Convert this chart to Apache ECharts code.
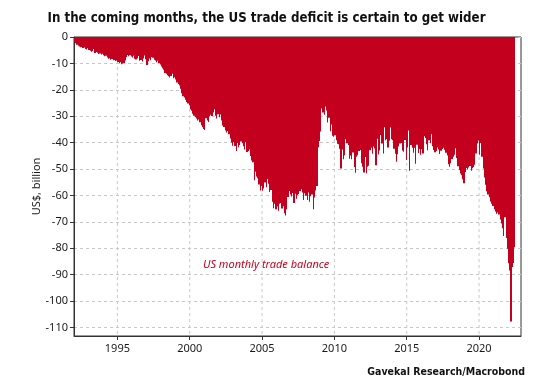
<!DOCTYPE html>
<html><head><meta charset="utf-8">
<script src="https://cdn.jsdelivr.net/npm/echarts@6/dist/echarts.min.js"></script>
<style>html,body{margin:0;padding:0;background:#fff}#c{width:533px;height:386px}</style>
</head><body><div id="c"></div>
<script>
// US monthly trade balance, US$ billion (Jan..Dec of each year)
const startYear = 1992;
const b1992 = [-1.8,-2.4,-2.9,-3.3,-3.6,-3.9,-3.8,-4.2,-4.0,-4.5,-4.7,-4.3];
const b1993 = [-4.9,-5.2,-5.6,-5.3,-4.5,-6.1,-5.7,-6.0,-6.4,-6.2,-6.6,-6.3];
const b1994 = [-6.9,-7.3,-7.1,-7.8,-8.2,-8.0,-8.6,-8.3,-8.8,-8.7,-9.1,-8.9];
const b1995 = [-9.5,-9.9,-9.6,-10.3,-10.0,-9.8,-8.9,-7.6,-6.8,-7.3,-6.9,-7.4];
const b1996 = [-7.8,-7.1,-8.2,-8.5,-8.0,-7.2,-9.0,-8.7,-9.3,-8.1,-7.0,-8.4];
const b1997 = [-10.6,-9.2,-8.1,-8.8,-7.6,-7.9,-8.6,-8.9,-9.6,-9.0,-9.8,-10.4];
const b1998 = [-11.2,-11.8,-12.4,-13.6,-13.9,-14.5,-14.9,-15.3,-14.8,-13.9,-15.6,-15.2];
const b1999 = [-16.1,-17.2,-17.8,-18.4,-19.6,-21.3,-22.4,-22.9,-23.8,-24.6,-25.2,-25.8];
const b2000 = [-27.4,-27.9,-29.1,-29.8,-30.4,-30.9,-31.6,-31.2,-32.3,-33.4,-34.1,-34.8];
const b2001 = [-35.2,-30.8,-31.6,-32.2,-30.1,-29.4,-29.9,-28.6,-27.4,-29.8,-30.9,-29.2];
const b2002 = [-30.4,-29.3,-31.6,-33.5,-34.1,-35.4,-36.2,-35.6,-36.8,-38.4,-39.9,-41.2];
const b2003 = [-39.8,-41.3,-43.2,-40.1,-41.7,-40.9,-39.6,-40.2,-41.4,-42.6,-39.8,-43.5];
const b2004 = [-43.2,-42.6,-45.1,-46.8,-47.4,-54.2,-51.0,-52.8,-53.5,-55.8,-58.1,-56.4];
const b2005 = [-58.2,-57.4,-55.1,-56.9,-53.8,-55.6,-58.7,-57.9,-62.4,-64.8,-63.1,-65.2];
const b2006 = [-64.2,-65.8,-63.1,-62.8,-64.9,-64.1,-66.7,-67.6,-65.2,-60.6,-58.3,-59.6];
const b2007 = [-60.4,-59.1,-62.8,-59.3,-61.2,-59.8,-59.4,-58.3,-57.6,-58.9,-61.7,-59.2];
const b2008 = [-60.1,-61.7,-58.9,-62.4,-60.3,-59.6,-65.2,-60.8,-58.1,-56.4,-41.7,-39.4];
const b2009 = [-35.8,-27.1,-28.6,-29.4,-26.3,-27.8,-32.4,-30.6,-35.7,-33.1,-37.4,-37.8];
const b2010 = [-37.2,-39.1,-40.4,-40.6,-42.3,-49.8,-42.6,-46.3,-44.8,-38.7,-40.2,-40.9];
const b2011 = [-46.1,-44.9,-46.3,-43.7,-49.2,-51.4,-45.3,-44.8,-43.2,-42.8,-47.8,-49.1];
const b2012 = [-51.3,-45.4,-51.6,-49.1,-48.7,-42.9,-41.9,-44.2,-41.5,-42.2,-48.6,-38.5];
const b2013 = [-44.5,-43.0,-37.1,-40.3,-44.1,-34.2,-39.1,-38.6,-41.8,-39.3,-34.3,-38.7];
const b2014 = [-39.1,-42.3,-44.2,-47.2,-44.4,-41.5,-40.3,-40.1,-43.0,-43.4,-39.0,-46.6];
const b2015 = [-41.8,-35.4,-50.6,-40.9,-41.9,-43.8,-41.9,-48.0,-40.8,-43.9,-42.4,-44.6];
const b2016 = [-42.5,-44.1,-37.6,-38.2,-40.6,-42.9,-39.1,-40.2,-36.8,-41.4,-42.8,-43.6];
const b2017 = [-43.2,-41.8,-42.6,-44.3,-43.1,-42.4,-41.9,-42.7,-43.8,-44.9,-48.2,-49.1];
const b2018 = [-47.8,-46.2,-45.3,-44.6,-42.1,-45.8,-48.9,-50.4,-51.7,-52.3,-53.9,-55.4];
const b2019 = [-51.1,-49.6,-50.2,-49.4,-48.8,-50.6,-49.7,-49.2,-48.4,-44.1,-40.3,-39.2];
const b2020 = [-44.6,-40.1,-45.3,-49.8,-53.2,-55.9,-58.4,-59.6,-60.7,-62.3,-63.1,-64.0];
const b2021 = [-65.2,-66.1,-66.9,-66.4,-67.2,-69.1,-70.6,-72.4,-75.3,-68.2,-76.1,-80.2];
const b2022 = [-85.7,-88.4,-107.7,-87.1,-85.6,-79.6];

const xTickYears = [1995, 2000, 2005, 2010, 2015, 2020];
const yTickValues = [0, -10, -20, -30, -40, -50, -60, -70, -80, -90, -100, -110];

const monthly = [].concat(b1992,b1993,b1994,b1995,b1996,b1997,b1998,b1999,b2000,b2001,
  b2002,b2003,b2004,b2005,b2006,b2007,b2008,b2009,b2010,b2011,b2012,b2013,b2014,b2015,
  b2016,b2017,b2018,b2019,b2020,b2021,b2022);
const seriesData = monthly.map((v, i) => [startYear + (i + 0.5) / 12, v]);

const X_MIN = 1992, X_MAX = 2022.9, Y_MIN = -113.2, Y_MAX = 0;
const gridColor = '#c8c8c8';
const red = '#c4001f';

const chart = echarts.init(document.getElementById('c'), null, {renderer: 'canvas'});
const lbl = {fontFamily: 'Noto Sans', fontSize: 11, color: '#1a1a1a'};

// vertical dashed grid lines at the labelled years, drawn beneath the bars
const vGrid = xTickYears.map(yr => ({
  type: 'line', data: [[yr, Y_MAX], [yr, Y_MIN]], symbol: 'none', silent: true, z: 1,
  lineStyle: {color: gridColor, width: 1, type: [3, 3]}
}));

// one bar per month, spanning the whole month on the value axis
function renderMonth(params, api) {
  const t = api.value(0), v = api.value(1);
  const p0 = api.coord([t - 1 / 24, 0]);
  const p1 = api.coord([t + 1 / 24, v]);
  const x0 = Math.round(p0[0]), x1 = Math.round(p1[0]);
  return {
    type: 'rect',
    shape: {x: x0, y: p0[1], width: Math.max(1, x1 - x0), height: p1[1] - p0[1]},
    style: {fill: red}
  };
}

chart.setOption({
  animation: false,
  backgroundColor: '#fff',
  title: {
    text: 'In the coming months, the US trade deficit is certain to get wider',
    left: 'center', top: 7,
    textStyle: {fontFamily: '"Liberation Sans Narrow","DejaVu Sans Condensed",sans-serif', fontWeight: 'bold', fontSize: 13.2, color: '#111'}
  },
  grid: {left: 74, right: 12, top: 37, bottom: 50, show: true, borderColor: '#333', borderWidth: 1},
  xAxis: {
    type: 'value', min: X_MIN, max: X_MAX,
    axisLine: {show: true, onZero: false, lineStyle: {color: '#333'}},
    axisTick: {show: true, customValues: xTickYears, length: 4, lineStyle: {color: '#333'}},
    axisLabel: Object.assign({customValues: xTickYears, margin: 7, formatter: v => String(v)}, lbl),
    splitLine: {show: false}
  },
  yAxis: {
    type: 'value', min: Y_MIN, max: Y_MAX,
    name: 'US$, billion', nameLocation: 'middle', nameGap: 32, nameMoveOverlap: false,
    nameTextStyle: Object.assign({}, lbl),
    axisLine: {show: true, onZero: false, lineStyle: {color: '#333'}},
    axisTick: {show: true, customValues: yTickValues, length: 4, lineStyle: {color: '#333'}},
    axisLabel: Object.assign({customValues: yTickValues, margin: 6}, lbl),
    splitLine: {show: true, lineStyle: {color: gridColor, type: [3, 3]}}
  },
  graphic: [
    {type: 'text', left: 203, top: 259, style: {text: 'US monthly trade balance', fill: red, font: 'italic 11px "Noto Sans"'}},
    {type: 'text', right: 8, top: 367, style: {text: 'Gavekal Research/Macrobond', fill: '#111', font: 'bold 10.5px "Liberation Sans Narrow","DejaVu Sans Condensed",sans-serif'}}
  ],
  series: vGrid.concat([{
    type: 'custom', data: seriesData, renderItem: renderMonth, silent: true, z: 3,
    encode: {x: 0, y: 1}
  }])
});
</script></body></html>
